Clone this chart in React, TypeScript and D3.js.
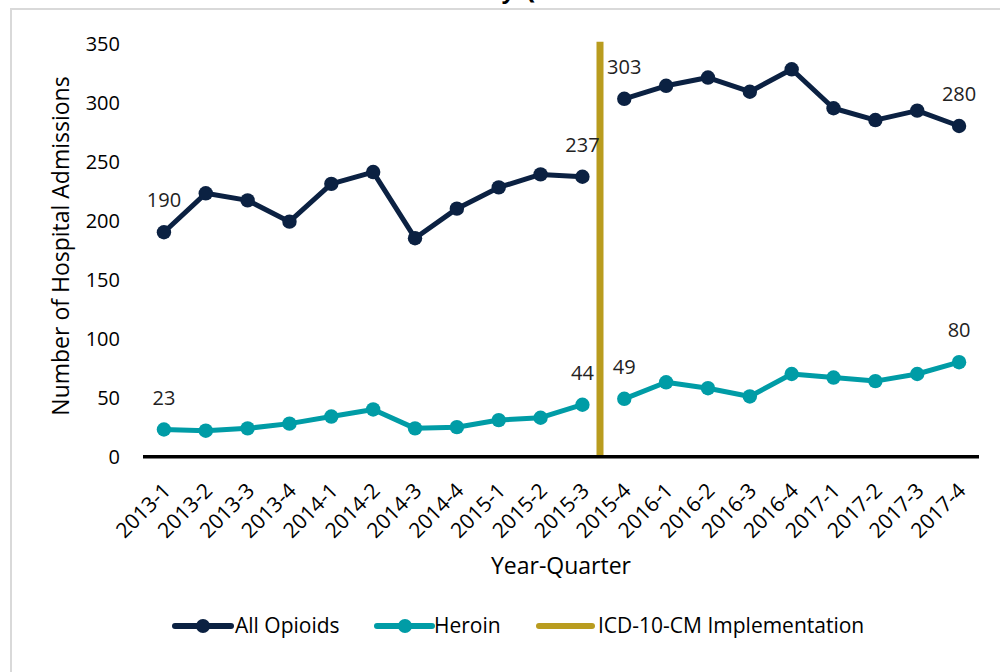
import React from "react";
import * as d3 from "d3";

const categories = [
  "2013-1", "2013-2", "2013-3", "2013-4",
  "2014-1", "2014-2", "2014-3", "2014-4",
  "2015-1", "2015-2", "2015-3", "2015-4",
  "2016-1", "2016-2", "2016-3", "2016-4",
  "2017-1", "2017-2", "2017-3", "2017-4",
];

const allOpioids = [190, 223, 217, 199, 231, 241, 185, 210, 228, 239, 237, 303, 314, 321, 309, 328, 295, 285, 293, 280];
const heroin = [23, 22, 24, 28, 34, 40, 24, 25, 31, 33, 44, 49, 63, 58, 51, 70, 67, 64, 70, 80];

// indices of points that carry a data label
const labeledIdx = [0, 10, 11, 19];

// ICD-10-CM implementation falls between 2015-3 and 2015-4 (fractional category index)
const implementationAt = 10.42;

const yTicks = [0, 50, 100, 150, 200, 250, 300, 350];

const titleText = "Admissions by Quarter";
const yTitle = "Number of Hospital Admissions";
const xTitle = "Year-Quarter";

const NAVY = "#0B2142";
const TEAL = "#009CA6";
const GOLD = "#B99C1F";
const FONT = "'Open Sans', sans-serif";

export default function App() {
  const W = 1000;
  const H = 672;

  const x = d3.scaleBand<string>().domain(categories).range([143, 980]);
  const cx = (i: number) => (x(categories[0]) as number) + x.bandwidth() / 2 + i * x.step();
  const y = d3.scaleLinear().domain([0, 350]).range([456.7, 43.3]);

  const lineOffset = (offset: number) =>
    d3
      .line<number>()
      .x((_, i) => cx(i + offset))
      .y((d) => y(d));

  const series = [
    { name: "All Opioids", values: allOpioids, color: NAVY },
    { name: "Heroin", values: heroin, color: TEAL },
  ];

  const vx = cx(implementationAt);

  return (
    <svg
      width={W}
      height={H}
      style={{ position: "absolute", left: 0, top: 0, background: "#fff" }}
      fontFamily={FONT}
    >
      <rect x={0} y={0} width={W} height={H} fill="#fff" />
      {/* frame */}
      <rect x={11} y={9} width={1100} height={800} fill="none" stroke="#D9D9D9" strokeWidth={2} />

      {/* cut-off title (the reference shows only its lowest pixels) */}
      <text x={368} y={-1} fontSize={22} fontWeight="bold" fontStyle="italic" fill="#000">
        {titleText}
      </text>

      {/* y tick labels */}
      {yTicks.map((t) => (
        <text key={t} x={120} y={y(t)} dy="0.36em" textAnchor="end" fontSize={20} fill="#000">
          {t}
        </text>
      ))}

      {/* y title */}
      <text
        transform={`translate(69, 246) rotate(-90)`}
        textAnchor="middle"
        fontSize={23}
        fill="#000"
      >
        {yTitle}
      </text>

      {/* implementation line */}
      <line x1={vx} x2={vx} y1={y(0)} y2={y(350) - 1.5} stroke={GOLD} strokeWidth={7} />

      {/* x axis */}
      <line x1={143} x2={979} y1={y(0)} y2={y(0)} stroke="#000" strokeWidth={3.5} />

      {/* x tick labels */}
      {categories.map((c, i) => (
        <text
          key={c}
          transform={`translate(${cx(i) + 8}, 492) rotate(-45)`}
          textAnchor="end"
          fontSize={21}
          fill="#000"
        >
          {c}
        </text>
      ))}

      {/* x title */}
      <text x={561} y={574} textAnchor="middle" fontSize={23} fill="#000">
        {xTitle}
      </text>

      {/* series */}
      {series.map((s) => (
        <g key={s.name}>
          <path d={lineOffset(0)(s.values.slice(0, 11)) || ""} fill="none" stroke={s.color} strokeWidth={5} strokeLinejoin="round" />
          <path d={lineOffset(11)(s.values.slice(11)) || ""} fill="none" stroke={s.color} strokeWidth={5} strokeLinejoin="round" />
          {s.values.map((v, i) => (
            <circle key={i} cx={cx(i)} cy={y(v)} r={7.2} fill={s.color} />
          ))}
          {labeledIdx.map((i) => (
            <text key={i} x={cx(i)} y={y(s.values[i]) - 25} textAnchor="middle" fontSize={20} fill="#222">
              {s.values[i]}
            </text>
          ))}
        </g>
      ))}

      {/* legend */}
      <g>
        <line x1={175} x2={231} y1={626} y2={626} stroke={NAVY} strokeWidth={6} strokeLinecap="round" />
        <circle cx={203} cy={626} r={7} fill={NAVY} />
        <text x={235} y={633} fontSize={21} fill="#000">All Opioids</text>

        <line x1={377} x2={432} y1={626} y2={626} stroke={TEAL} strokeWidth={6} strokeLinecap="round" />
        <circle cx={405} cy={626} r={7} fill={TEAL} />
        <text x={434} y={633} fontSize={21} fill="#000">Heroin</text>

        <line x1={539} x2={592} y1={626} y2={626} stroke={GOLD} strokeWidth={6} strokeLinecap="round" />
        <text x={598} y={633} fontSize={21} fill="#000">ICD-10-CM Implementation</text>
      </g>
    </svg>
  );
}
